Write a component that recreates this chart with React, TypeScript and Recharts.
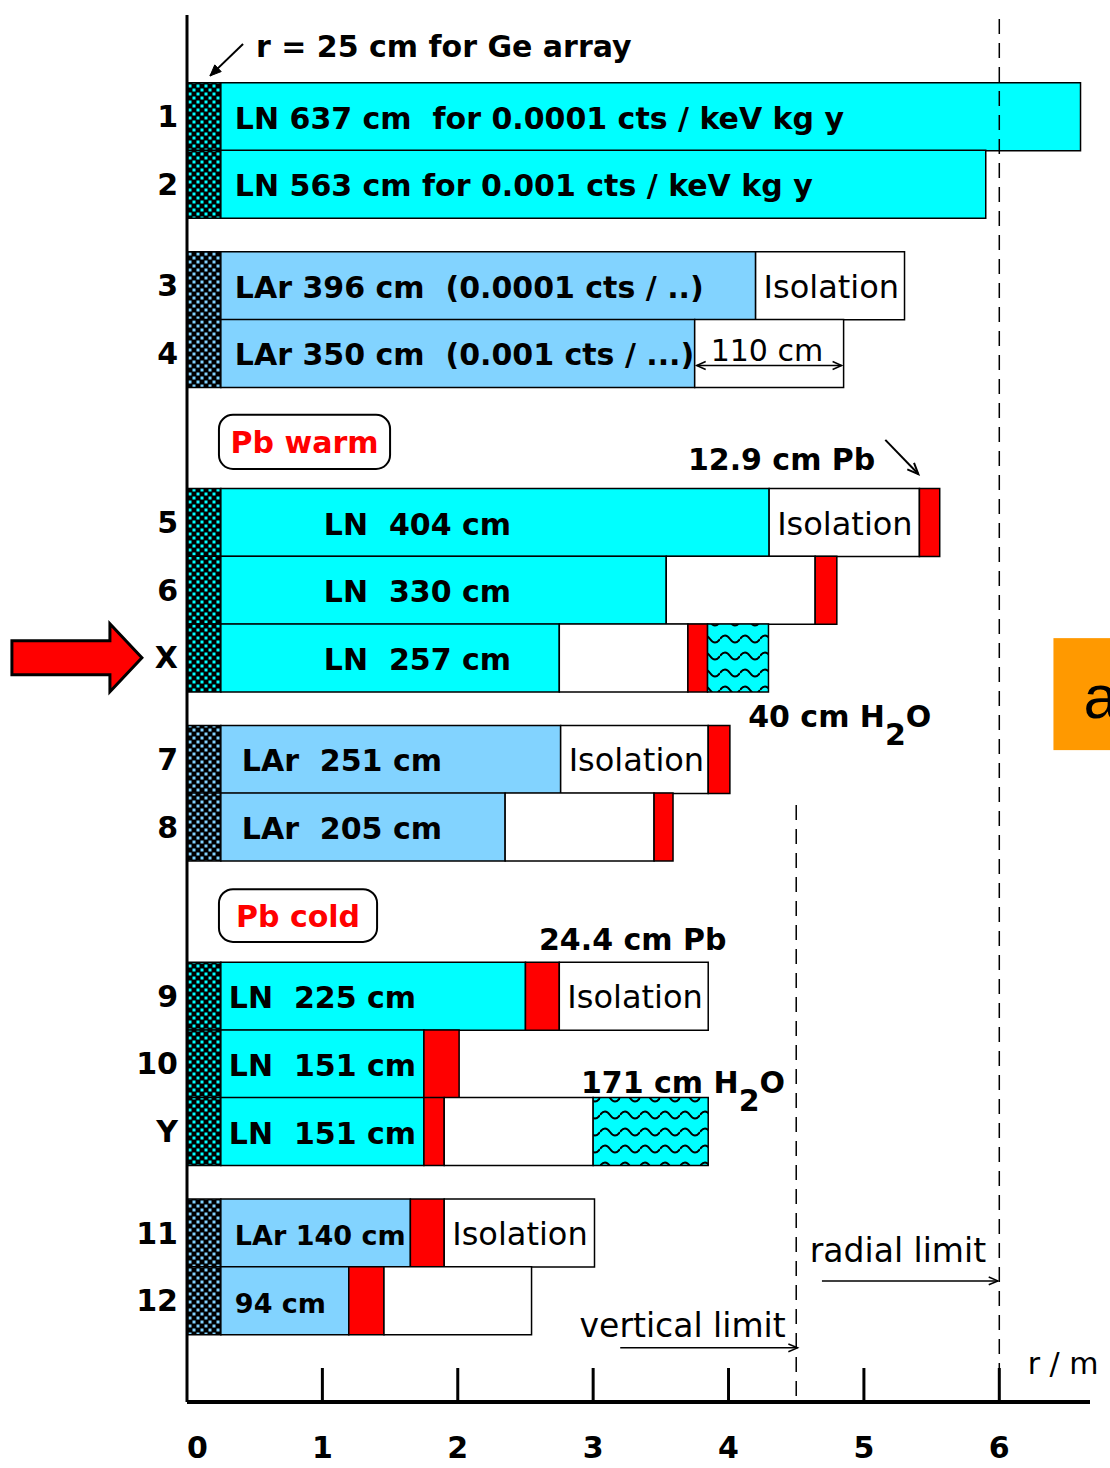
import {
  Bar,
  BarChart,
  Cell,
  LabelList,
  ReferenceArea,
  ReferenceDot,
  ReferenceLine,
  XAxis,
  YAxis,
} from 'recharts'

// one entry per configuration row, top to bottom
const rows = ['1', '2', '3', '4', '5', '6', 'X', '7', '8', '9', '10', 'Y', '11', '12']
// row centre on the vertical axis, in half-row units from the top
const rowPos = [3, 5, 8, 10, 15, 17, 19, 22, 24, 29, 31, 33, 36, 38]
const liquid = ['LN', 'LN', 'LAr', 'LAr', 'LN', 'LN', 'LN', 'LAr', 'LAr', 'LN', 'LN', 'LN', 'LAr', 'LAr']

// thicknesses in metres
const geArray = [0.25, 0.25, 0.25, 0.25, 0.25, 0.25, 0.25, 0.25, 0.25, 0.25, 0.25, 0.25, 0.25, 0.25]
const cryoLiquid = [6.35, 5.65, 3.95, 3.5, 4.05, 3.29, 2.5, 2.51, 2.1, 2.25, 1.5, 1.5, 1.4, 0.945]
const isolationInner = [0, 0, 1.1, 1.1, 1.11, 1.1, 0.95, 1.09, 1.1, 0, 0, 0, 0, 0]
const lead = [0, 0, 0, 0, 0.15, 0.16, 0.145, 0.16, 0.14, 0.25, 0.26, 0.15, 0.25, 0.26]
const isolationOuter = [0, 0, 0, 0, 0, 0, 0, 0, 0, 1.1, 0, 1.1, 1.11, 1.09]
const water = [0, 0, 0, 0, 0, 0, 0.45, 0, 0, 0, 0, 0.85, 0, 0]

const liquidLabels = [
  'LN 637 cm  for 0.0001 cts / keV kg y',
  'LN 563 cm for 0.001 cts / keV kg y',
  'LAr 396 cm  (0.0001 cts / ..)',
  'LAr 350 cm  (0.001 cts / ...)',
  'LN  404 cm',
  'LN  330 cm',
  'LN  257 cm',
  'LAr  251 cm',
  'LAr  205 cm',
  'LN  225 cm',
  'LN  151 cm',
  'LN  151 cm',
  'LAr 140 cm',
  '94 cm',
]
const isolationLabels = ['', '', 'Isolation', '110 cm', 'Isolation', '', '', 'Isolation', '', 'Isolation', '', '', 'Isolation', '']

const xTicks = [0, 1, 2, 3, 4, 5, 6]

const data = rows.map((row, i) => ({
  row,
  pos: rowPos[i],
  liquid: liquid[i],
  ge: geArray[i],
  cryo: cryoLiquid[i],
  isoIn: isolationInner[i],
  pb: lead[i],
  isoOut: isolationOuter[i],
  h2o: water[i],
  label: liquidLabels[i],
  isoLabel: isolationLabels[i],
}))

const LN = '#00FFFF'
const LAR = '#82D3FF'
const RED = '#FF0000'

const indent = (row: string) =>
  ['5', '6', 'X'].includes(row) ? 103 : ['7', '8'].includes(row) ? 21 : ['9', '10', 'Y'].includes(row) ? 8 : 14

const box = (p: any) => p.viewBox ?? p

function LiquidLabel(p: any) {
  const { x, y, width, height } = box(p)
  const row = rows[p.index]
  if (!width) return null
  const small = row === '11' || row === '12'
  return (
    <text
      x={x + indent(row)}
      y={y + height / 2 + 12}
      fontSize={small ? 27 : 30}
      fontWeight="bold"
      fill="#000"
      style={{ whiteSpace: 'pre' }}
    >
      {p.value}
    </text>
  )
}

function IsolationLabel(p: any) {
  const { x, y, width, height } = box(p)
  if (!width || !p.value) return null
  const cy = y + height / 2
  if (p.value.endsWith('cm')) {
    const ax1 = x + 2
    const ax2 = x + width - 2
    const ay = cy + 12
    return (
      <g>
        <text x={x + 16} y={cy + 8} fontSize={30} fill="#000">
          {p.value}
        </text>
        <line x1={ax1} x2={ax2} y1={ay} y2={ay} stroke="#000" strokeWidth={1.5} />
        <polyline points={`${ax1 + 9},${ay - 4} ${ax1},${ay} ${ax1 + 9},${ay + 4}`} fill="none" stroke="#000" strokeWidth={1.5} />
        <polyline points={`${ax2 - 9},${ay - 4} ${ax2},${ay} ${ax2 - 9},${ay + 4}`} fill="none" stroke="#000" strokeWidth={1.5} />
      </g>
    )
  }
  return (
    <text x={x + 8} y={cy + 12} fontSize={32} fill="#000">
      {p.value}
    </text>
  )
}

function XTick(p: any) {
  const { x, y, payload } = p
  const v = payload.value
  return (
    <g>
      {v > 0 && <line x1={x} x2={x} y1={y} y2={y - 34} stroke="#000" strokeWidth={3} />}
      <text x={x} y={y + 56} textAnchor={v === 0 ? 'start' : 'middle'} fontSize={30} fontWeight="bold" fill="#000">
        {v}
      </text>
    </g>
  )
}

function Arrow({ x1, y1, x2, y2, head = 10, width = 1.5, filled = false }: any) {
  const a = Math.atan2(y2 - y1, x2 - x1)
  const p1 = `${x2 - head * Math.cos(a - 0.4)},${y2 - head * Math.sin(a - 0.4)}`
  const p2 = `${x2 - head * Math.cos(a + 0.4)},${y2 - head * Math.sin(a + 0.4)}`
  return (
    <g>
      <line x1={x1} y1={y1} x2={x2} y2={y2} stroke="#000" strokeWidth={width} />
      {filled ? (
        <polygon points={`${p1} ${x2},${y2} ${p2}`} fill="#000" stroke="#000" strokeWidth={1} />
      ) : (
        <polyline points={`${p1} ${x2},${y2} ${p2}`} fill="none" stroke="#000" strokeWidth={width} />
      )}
    </g>
  )
}

const note =
  (content: React.ReactNode, bold = true, size = 30) =>
  (p: any) => (
    <text x={p.cx} y={p.cy} fontSize={size} fontWeight={bold ? 'bold' : 'normal'} fill="#000">
      {content}
    </text>
  )

const water2 = (text: string) => (
  <>
    {text} H<tspan dy={18} fontSize={30}>2</tspan>
    <tspan dy={-18}>O</tspan>
  </>
)

const pbBox = (text: string) => (p: any) => (
  <g>
    <rect x={p.x} y={p.y} width={p.width} height={p.height} rx={14} fill="#fff" stroke="#000" strokeWidth={2} />
    <text
      x={p.x + p.width / 2}
      y={p.y + p.height / 2 + 11}
      textAnchor="middle"
      fontSize={30}
      fontWeight="bold"
      fill={RED}
    >
      {text}
    </text>
  </g>
)

export default function App() {
  return (
    <div style={{ position: 'absolute', left: 0, top: 0, fontFamily: '"DejaVu Sans", sans-serif' }}>
      <BarChart
        width={1110}
        height={1468}
        data={data}
        layout="vertical"
        barCategoryGap={0}
        margin={{ top: 15, right: 20, bottom: 0, left: 0 }}
      >
        <defs>
          <pattern id="geLN" width={8} height={8} patternUnits="userSpaceOnUse">
            <rect width={8} height={8} fill="#000" />
            <rect x={0.5} y={0.5} width={3} height={3} fill={LN} />
            <rect x={4.5} y={4.5} width={3} height={3} fill={LN} />
          </pattern>
          <pattern id="geLAr" width={8} height={8} patternUnits="userSpaceOnUse">
            <rect width={8} height={8} fill="#000" />
            <rect x={0.5} y={0.5} width={3} height={3} fill={LAR} />
            <rect x={4.5} y={4.5} width={3} height={3} fill={LAR} />
          </pattern>
          <pattern id="h2o" width={20} height={17} patternUnits="userSpaceOnUse">
            <rect width={20} height={17} fill={LN} />
            <path d="M0,10 Q5,3 10,10 T20,10" fill="none" stroke="#000" strokeWidth={2} />
          </pattern>
        </defs>
        <XAxis
          type="number"
          domain={[0, 6.67]}
          ticks={xTicks}
          interval={0}
          height={66}
          tickSize={0}
          tickMargin={0}
          tickLine={false}
          tick={<XTick />}
          axisLine={{ stroke: '#000', strokeWidth: 4 }}
        />
        <YAxis
          type="number"
          dataKey="pos"
          domain={[0, 41]}
          ticks={rowPos}
          interval={0}
          width={187}
          tickSize={0}
          tickMargin={9}
          tickLine={false}
          tickFormatter={(v: number) => rows[rowPos.indexOf(v)] ?? ''}
          tick={{ fill: '#000', fontSize: 30, fontWeight: 'bold' }}
          axisLine={{ stroke: '#000', strokeWidth: 3 }}
        />
        <Bar dataKey="ge" stackId="r" stroke="#000" strokeWidth={1.5} isAnimationActive={false}>
          {data.map((d) => (
            <Cell key={d.row} fill={d.liquid === 'LN' ? 'url(#geLN)' : 'url(#geLAr)'} />
          ))}
        </Bar>
        <Bar dataKey="cryo" stackId="r" stroke="#000" strokeWidth={1.5} isAnimationActive={false}>
          {data.map((d) => (
            <Cell key={d.row} fill={d.liquid === 'LN' ? LN : LAR} />
          ))}
          <LabelList dataKey="label" content={<LiquidLabel />} />
        </Bar>
        <Bar dataKey="isoIn" stackId="r" fill="#fff" stroke="#000" strokeWidth={1.5} isAnimationActive={false}>
          <LabelList dataKey="isoLabel" content={<IsolationLabel />} />
        </Bar>
        <Bar dataKey="pb" stackId="r" fill={RED} stroke="#000" strokeWidth={1.5} isAnimationActive={false} />
        <Bar dataKey="isoOut" stackId="r" fill="#fff" stroke="#000" strokeWidth={1.5} isAnimationActive={false}>
          <LabelList dataKey="isoLabel" content={<IsolationLabel />} />
        </Bar>
        <Bar dataKey="h2o" stackId="r" fill="url(#h2o)" stroke="#000" strokeWidth={1.5} isAnimationActive={false} />

        <ReferenceLine x={6} stroke="#000" strokeWidth={1.5} strokeDasharray="15 9" />
        <ReferenceLine
          segment={[
            { x: 4.5, y: 23.35 },
            { x: 4.5, y: 41 },
          ]}
          stroke="#000"
          strokeWidth={1.5}
          strokeDasharray="15 9"
        />

        <ReferenceArea x1={0.236} x2={1.5} y1={11.82} y2={13.42} shape={pbBox('Pb warm')} />
        <ReferenceArea x1={0.236} x2={1.404} y1={25.84} y2={27.4} shape={pbBox('Pb cold')} />

        <ReferenceDot x={0.51} y={1.24} r={0} shape={note('r = 25 cm for Ge array')} />
        <ReferenceLine
          segment={[
            { x: 0.414, y: 0.86 },
            { x: 0.17, y: 1.8 },
          ]}
          shape={(p: any) => <Arrow {...p} width={2} head={12} filled />}
        />
        <ReferenceDot x={3.7} y={13.45} r={0} shape={note('12.9 cm Pb')} />
        <ReferenceLine
          segment={[
            { x: 5.158, y: 12.56 },
            { x: 5.402, y: 13.57 },
          ]}
          shape={(p: any) => <Arrow {...p} width={2} head={12} />}
        />
        <ReferenceDot x={4.145} y={21.05} r={0} shape={note(water2('40 cm'))} />
        <ReferenceDot x={2.6} y={27.64} r={0} shape={note('24.4 cm Pb')} />
        <ReferenceDot x={2.91} y={31.87} r={0} shape={note(water2('171 cm'))} />
        <ReferenceDot x={4.6} y={36.86} r={0} shape={note('radial limit', false, 33)} />
        <ReferenceLine
          segment={[
            { x: 4.69, y: 37.42 },
            { x: 5.99, y: 37.42 },
          ]}
          shape={(p: any) => <Arrow {...p} />}
        />
        <ReferenceDot x={2.9} y={39.08} r={0} shape={note('vertical limit', false, 33)} />
        <ReferenceLine
          segment={[
            { x: 3.2, y: 39.4 },
            { x: 4.51, y: 39.4 },
          ]}
          shape={(p: any) => <Arrow {...p} />}
        />
        <ReferenceDot x={6.21} y={40.17} r={0} shape={note('r / m', false, 30)} />

        <ReferenceDot
          x={-0.333}
          y={19}
          r={0}
          ifOverflow="visible"
          shape={(p: any) => (
            <polygon
              points={`${p.cx},${p.cy} ${p.cx - 32},${p.cy - 34} ${p.cx - 32},${p.cy - 17} ${p.cx - 130},${p.cy - 17} ${p.cx - 130},${p.cy + 17} ${p.cx - 32},${p.cy + 17} ${p.cx - 32},${p.cy + 34}`}
              fill={RED}
              stroke="#000"
              strokeWidth={3}
            />
          )}
        />
        <ReferenceArea
          x1={6.4}
          x2={7.2}
          y1={18.42}
          y2={21.73}
          ifOverflow="visible"
          shape={(p: any) => (
            <g>
              <rect x={p.x} y={p.y} width={p.width} height={p.height} fill="#FF9900" />
              <text x={p.x + 30} y={p.y + 80} fontSize={62} fontFamily="Liberation Sans, sans-serif" fill="#000">
                a
              </text>
            </g>
          )}
        />
      </BarChart>
    </div>
  )
}
